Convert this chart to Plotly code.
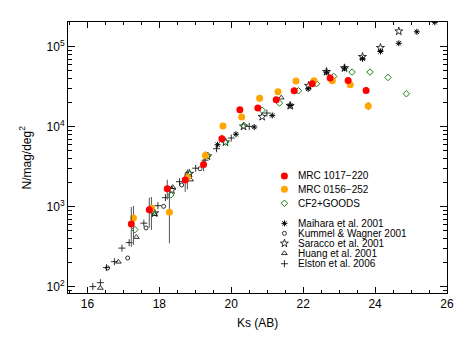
import plotly.graph_objects as go

#Data (Ks AB magnitude, N/mag/deg^2)
red_k = [17.22, 17.72, 18.22, 18.72, 19.23, 19.74, 20.24, 20.74, 21.25, 21.75, 22.25, 22.75, 23.25, 23.75]
red_n = [608, 917, 1679, 2157, 3378, 7079, 16310, 17130, 21760, 28180, 34470, 40620, 37920, 28450]
red_up = [383, 379, 496, 483, 526, 864, 1500, 1500, 1800, 2300, 2800, 3300, 3500, 3000]
red_dn = [294, 371, 456, 629, 615, 769, 1400, 1400, 1700, 2100, 2600, 3100, 3200, 2800]

orange_k = [17.28, 17.78, 18.28, 18.78, 19.28, 19.77, 20.29, 20.79, 21.30, 21.80, 22.30, 22.81, 23.31, 23.81]
orange_n = [722, 963, 849, 2325, 4378, 10200, 13220, 22700, 27380, 37270, 37580, 37580, 33500, 18150]
orange_up = [299, 360, 751, 599, 532, 900, 1200, 2000, 2400, 3200, 3200, 3200, 3000, 2200]
orange_dn = [390, 451, 501, 681, 697, 850, 1100, 1900, 2200, 3000, 3000, 3000, 2800, 2000]

goods_k = [17.32, 17.83, 18.32, 18.81, 19.35, 19.84, 20.35, 20.86, 21.34, 21.87, 22.37, 22.85, 23.36, 23.86, 24.36, 24.87]
goods_n = [516, 849, 1400, 2638, 4340, 6401, 10380, 16080, 19780, 28180, 34470, 42540, 48310, 48310, 41310, 25850]

maihara_k = [19.62, 20.13, 20.64, 21.14, 21.64, 22.14, 22.65, 23.15, 23.65, 24.15, 24.66, 25.16, 25.66]
maihara_n = [5957, 8060, 9910, 13840, 18410, 29690, 47970, 53830, 70790, 87330, 110600, 154000, 202400]

kummel_k = [16.56, 17.12, 17.63, 18.12, 18.62, 19.13]
kummel_n = [171, 228, 542, 1009, 1868, 2985]

saracco_k = [17.87, 18.35, 18.84, 19.34, 19.84, 20.34, 20.86, 21.64, 22.15, 22.65, 23.15, 23.65, 24.15, 24.66]
saracco_n = [829, 1608, 2585, 4276, 6401, 10090, 13340, 18300, 32540, 48700, 54190, 75000, 97170, 156300]

huang_k = [16.36, 16.86, 17.36, 17.87, 18.37, 18.87, 21.39]
huang_n = [96, 204, 416, 806, 1754, 2175, 23050]

elston_k = [16.15, 16.36, 16.53, 16.75, 16.96, 17.16, 17.57, 17.96, 18.17, 18.56, 18.80, 19.01, 19.27, 19.59, 20.0, 20.5, 20.99]
elston_n = [100, 112, 173, 205, 303, 355, 622, 1029, 1296, 2054, 2512, 3028, 3811, 5309, 7224, 10090, 14830]

x_ticks = [16, 18, 20, 22, 24, 26]
y_ticks = [1e2, 1e3, 1e4, 1e5]
y_ticktext = ['10<sup>2</sup>', '10<sup>3</sup>', '10<sup>4</sup>', '10<sup>5</sup>']

FONT = 'Liberation Sans, Arial, Helvetica, sans-serif'

#Marker styles: name -> (symbol, color, size, line width)
styles = {
    'MRC 1017\u2212220': ('circle', '#FF0000', 7, 0),
    'MRC 0156\u2212252': ('circle', '#FFA500', 7, 0),
    'CF2+GOODS': ('diamond-open', '#1A801A', 5, 1),
    'Maihara et al. 2001': ('asterisk-open', 'black', 5, 1),
    'Kummel & Wagner 2001': ('circle-open', 'black', 4, 0.8),
    'Saracco et al. 2001': ('star-open', 'black', 6, 0.8),
    'Huang et al. 2001': ('triangle-up-open', 'black', 5, 0.8),
    'Elston et al. 2006': ('cross-thin-open', 'black', 5, 0.8),
}

def marker(name):
    sym, col, size, lw = styles[name]
    return dict(symbol=sym, color=col, size=size, line=dict(color=col, width=lw))

fig = go.Figure()

#Literature counts
lit = [('Elston et al. 2006', elston_k, elston_n),
       ('Huang et al. 2001', huang_k, huang_n),
       ('Kummel & Wagner 2001', kummel_k, kummel_n),
       ('Saracco et al. 2001', saracco_k, saracco_n),
       ('Maihara et al. 2001', maihara_k, maihara_n)]
for name, k, n in lit:
    fig.add_trace(go.Scatter(x=k, y=n, mode='markers', name=name, marker=marker(name), showlegend=False))

fig.add_trace(go.Scatter(x=goods_k, y=goods_n, mode='markers', name='CF2+GOODS',
                         marker=marker('CF2+GOODS'), showlegend=False))

#Cluster fields with error bars
for name, k, n, up, dn in [('MRC 0156\u2212252', orange_k, orange_n, orange_up, orange_dn),
                           ('MRC 1017\u2212220', red_k, red_n, red_up, red_dn)]:
    fig.add_trace(go.Scatter(x=k, y=n, mode='markers', name=name, marker=marker(name),
                             error_y=dict(type='data', array=up, arrayminus=dn, color='#555555',
                                          thickness=1, width=0),
                             showlegend=False))

#Hand-made legend (two groups with different spacing)
legend_items = [('MRC 1017\u2212220', 0.432), ('MRC 0156\u2212252', 0.383), ('CF2+GOODS', 0.331),
                ('Maihara et al. 2001', 0.257), ('Kummel & Wagner 2001', 0.220),
                ('Saracco et al. 2001', 0.183), ('Huang et al. 2001', 0.1465), ('Elston et al. 2006', 0.108)]
for name, yy in legend_items:
    fig.add_trace(go.Scatter(x=[0.571], y=[yy], mode='markers', marker=marker(name),
                             xaxis='x2', yaxis='y2', showlegend=False, hoverinfo='skip'))
    fig.add_annotation(x=0.601, y=yy, xref='paper', yref='paper', text=name, showarrow=False,
                       xanchor='left', yanchor='middle', font=dict(size=10, color='black', family=FONT))

#Axis titles
fig.add_annotation(x=0.5, y=-0.111, xref='paper', yref='paper', text='Ks (AB)', showarrow=False,
                   xanchor='center', yanchor='middle', font=dict(size=12, color='black', family=FONT))
fig.add_annotation(x=-0.1135, y=0.5, xref='paper', yref='paper', text='N/mag/deg<sup>2</sup>',
                   showarrow=False, textangle=-90, xanchor='center', yanchor='middle',
                   font=dict(size=12, color='black', family=FONT))

axis_common = dict(showline=True, linecolor='black', linewidth=1, mirror='ticks', ticks='inside',
                   tickcolor='black', showgrid=False, zeroline=False, automargin=False,
                   tickfont=dict(size=12, color='black', family=FONT))

minor_y = [m * 10 ** e for e in range(1, 6) for m in range(2, 10)]

# page body has an 8px margin, so the figure is 8px smaller than the window
fig.update_layout(
    width=460, height=330,
    margin=dict(l=60, r=21, t=14, b=45),
    paper_bgcolor='white', plot_bgcolor='white',
    font=dict(family=FONT, color='black'),
    showlegend=False,
    xaxis=dict(range=[15.46, 26.0], tickvals=x_ticks, ticklen=6,
               minor=dict(ticks='inside', ticklen=3, dtick=0.5, tick0=16, tickcolor='black'),
               **axis_common),
    yaxis=dict(type='log', range=[1.92, 5.31], tickvals=y_ticks, ticktext=y_ticktext, ticklen=7,
               minor=dict(ticks='inside', ticklen=4, tickvals=minor_y, tickcolor='black'),
               **axis_common),
    xaxis2=dict(overlaying='x', range=[0, 1], visible=False),
    yaxis2=dict(overlaying='y', range=[0, 1], visible=False),
)

fig.write_html("out.html")
